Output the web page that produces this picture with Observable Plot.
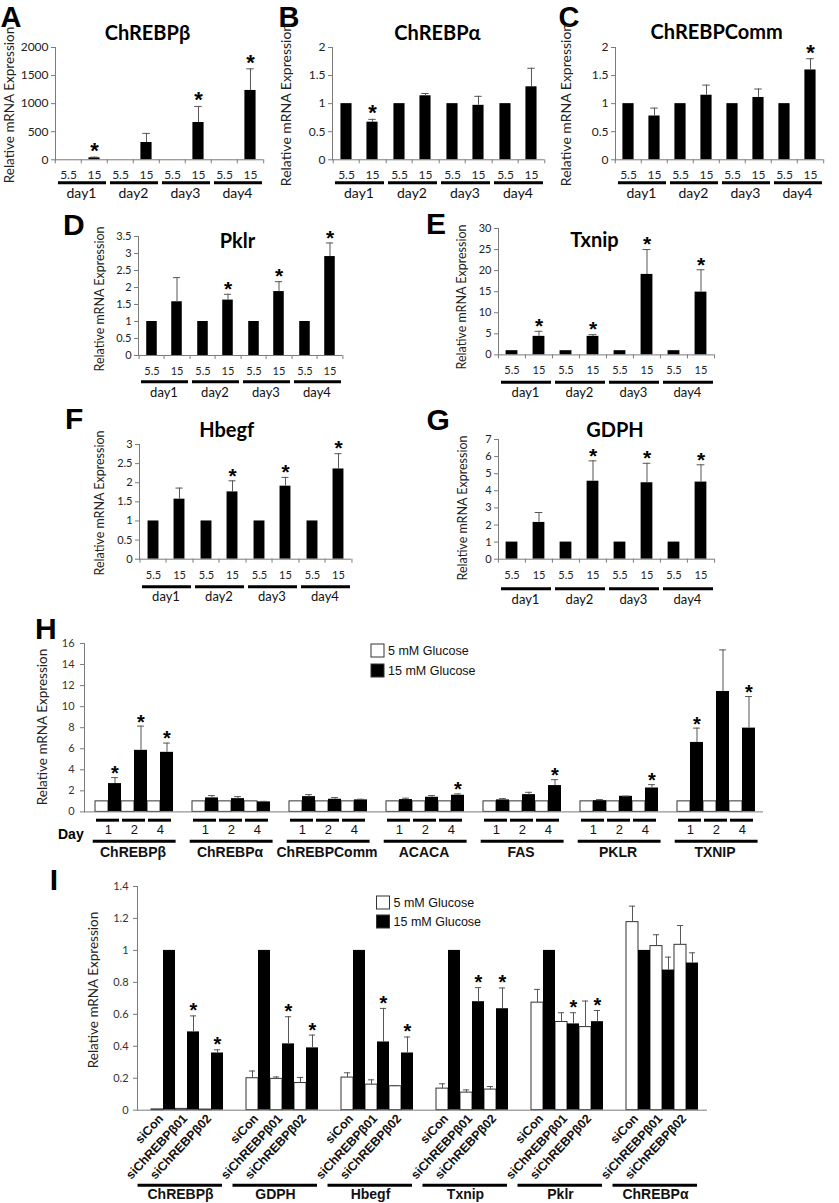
<!DOCTYPE html>
<html><head><meta charset="utf-8">
<script src="https://cdn.jsdelivr.net/npm/d3@7"></script>
<script src="https://cdn.jsdelivr.net/npm/@observablehq/plot@0.6"></script>
<style>
body{margin:0;background:#fff;}
#fig{position:relative;width:839px;height:1203px;overflow:hidden;background:#fff;}
</style></head><body><div id="fig"></div>
<script>
// ---------------- DATA ----------------
const days = ["day1","day2","day3","day4"];
const glucose = ["5.5","15"];
const low55 = [1,1,1,1];

// A ChREBPβ
const aHigh = [35, 308, 664, 1235];
const aErr  = [12, 162, 286, 385];
const aSig  = [1,0,1,1];
const aTicks = [0,500,1000,1500,2000];
// B ChREBPα
const bHigh = [0.67, 1.14, 0.97, 1.30];
const bErr  = [0.05, 0.04, 0.16, 0.33];
const bSig  = [1,0,0,0];
// C ChREBPComm
const cHigh = [0.78, 1.15, 1.11, 1.60];
const cErr  = [0.14, 0.18, 0.15, 0.20];
const cSig  = [0,0,0,1];
const bcTicks = [0,0.5,1,1.5,2];
// D Pklr
const dHigh = [1.58, 1.63, 1.88, 2.91];
const dErr  = [0.71, 0.17, 0.29, 0.40];
const dSig  = [0,1,1,1];
const dTicks = [0,0.5,1,1.5,2,2.5,3,3.5];
// E Txnip
const eHigh = [4.4, 4.4, 19.1, 14.9];
const eErr  = [1.2, 0.4, 5.9, 5.3];
const eSig  = [1,1,1,1];
const eTicks = [0,5,10,15,20,25,30];
// F Hbegf
const fHigh = [1.57, 1.76, 1.91, 2.36];
const fErr  = [0.29, 0.29, 0.23, 0.40];
const fSig  = [0,1,1,1];
const fTicks = [0,0.5,1,1.5,2,2.5,3];
// G GDPH
const gHigh = [2.15, 4.56, 4.47, 4.51];
const gErr  = [0.58, 1.19, 1.14, 1.01];
const gSig  = [0,1,1,1];
const gTicks = [0,1,2,3,4,5,6,7];

// H
const hGenes = ["ChREBPβ","ChREBPα","ChREBPComm","ACACA","FAS","PKLR","TXNIP"];
const hDays = ["1","2","4"];
const h5mM = [1,1,1];
const h15ChREBPb = [2.69, 5.85, 5.66], hErrChREBPb = [0.57, 2.30, 0.88], hSigChREBPb = [1,1,1];
const h15ChREBPa = [1.33, 1.26, 0.95], hErrChREBPa = [0.22, 0.19, 0.05], hSigChREBPa = [0,0,0];
const h15Comm = [1.45, 1.20, 1.14], hErrComm = [0.19, 0.16, 0.06], hSigComm = [0,0,0];
const h15ACACA = [1.17, 1.39, 1.58], hErrACACA = [0.13, 0.16, 0.13], hSigACACA = [0,0,1];
const h15FAS = [1.14, 1.64, 2.50], hErrFAS = [0.12, 0.22, 0.56], hSigFAS = [0,0,1];
const h15PKLR = [1.07, 1.48, 2.27], hErrPKLR = [0.10, 0.02, 0.32], hSigPKLR = [0,0,1];
const h15TXNIP = [6.60, 11.44, 7.96], hErrTXNIP = [1.36, 3.95, 3.00], hSigTXNIP = [1,0,1];
const hTicks = [0,2,4,6,8,10,12,14,16];

// I
const iGenes = ["ChREBPβ","GDPH","Hbegf","Txnip","Pklr","ChREBPα"];
const iSi = ["siCon","siChREBPβ01","siChREBPβ02"];
const i5ChREBPb = [0.005, 0.008, 0.004], i5eChREBPb = [0, 0, 0];
const i15ChREBPb = [1, 0.49, 0.358], i15eChREBPb = [0, 0.10, 0.02], iSigChREBPb = [0,1,1];
const i5GDPH = [0.20, 0.196, 0.17], i5eGDPH = [0.045, 0.012, 0.035];
const i15GDPH = [1, 0.415, 0.39], i15eGDPH = [0, 0.17, 0.08], iSigGDPH = [0,1,1];
const i5Hbegf = [0.204, 0.16, 0.15], i5eHbegf = [0.03, 0.03, 0.004];
const i15Hbegf = [1, 0.427, 0.358], i15eHbegf = [0, 0.21, 0.10], iSigHbegf = [0,1,1];
const i5Txnip = [0.135, 0.11, 0.129], i5eTxnip = [0.03, 0.017, 0.019];
const i15Txnip = [1, 0.679, 0.635], i15eTxnip = [0, 0.088, 0.13], iSigTxnip = [0,1,1];
const i5Pklr = [0.673, 0.552, 0.52], i5ePklr = [0.083, 0.058, 0.163];
const i15Pklr = [1, 0.54, 0.554], i15ePklr = [0, 0.07, 0.07], iSigPklr = [0,1,1];
const i5ChREBPa = [1.177, 1.027, 1.035], i5eChREBPa = [0.10, 0.071, 0.121];
const i15ChREBPa = [1, 0.877, 0.921], i15eChREBPa = [0, 0.081, 0.064], iSigChREBPa = [0,0,0];
const iTicks = [0,0.2,0.4,0.6,0.8,1,1.2,1.4];

// ---------------- HELPERS ----------------
const fig = document.getElementById("fig");
const CAL = "Lato, 'Open Sans', sans-serif";
const ARIAL = "'Liberation Sans', Arial, sans-serif";
const GRAY = "#7a7a7a";
const fmt = d => String(d);

function place(svg, left, top) {
  svg.style.position = "absolute";
  svg.style.left = left + "px";
  svg.style.top = top + "px";
  svg.style.background = "none";
  svg.style.overflow = "visible";
  svg.style.maxWidth = "none";
  fig.appendChild(svg);
}

function dayPanel(cfg) {
  const {x0, x1, y0, y1} = cfg.frame;
  const W = x1 - x0, H = y1 - y0;
  const ml = 45, mr = 8, mt = 15, mb = 50;
  const bw = W / (days.length * glucose.length);
  const rows = [];
  days.forEach((d, i) => {
    rows.push({day: d, g: "5.5", v: low55[i], e: 0, s: 0});
    rows.push({day: d, g: "15", v: cfg.high[i], e: cfg.err[i], s: cfg.sig[i]});
  });
  const withErr = rows.filter(r => r.e > 0);
  const stars = rows.filter(r => r.s);
  const ins = bw * 0.28;
  const svg = Plot.plot({
    width: ml + W + mr, height: mt + H + mb,
    marginLeft: ml, marginRight: mr, marginTop: mt, marginBottom: mb,
    style: {background: "none", overflow: "visible", fontFamily: CAL},
    fx: {domain: days, padding: 0, label: null},
    x: {domain: glucose, padding: 0, label: null},
    y: {domain: [0, cfg.ymax], label: null},
    marks: [
      Plot.barY(rows, {fx: "day", x: "g", y: "v", fill: "black", insetLeft: ins, insetRight: ins}),
      Plot.ruleX(withErr, {fx: "day", x: "g", y1: "v", y2: r => r.v + r.e, stroke: "#555"}),
      Plot.tickY(withErr, {fx: "day", x: "g", y: r => r.v + r.e, stroke: "#555", insetLeft: (bw - 8) / 2, insetRight: (bw - 8) / 2}),
      Plot.text(stars, {fx: "day", x: "g", y: r => r.v + r.e, text: () => "*", dy: cfg.starDy, fontSize: cfg.starFs, fontFamily: ARIAL, fontWeight: "bold"}),
      Plot.ruleY([0], {stroke: GRAY}),
      Plot.frame({anchor: "left", facetAnchor: "left", stroke: GRAY}),
      Plot.axisY({ticks: cfg.yticks, tickFormat: fmt, tickSize: 4, tickPadding: 3, fontSize: cfg.fs, stroke: GRAY, fill: "#222", label: null}),
      Plot.axisX({tickSize: 0, tickPadding: cfg.xPad, fontSize: cfg.fs, fill: "#222", label: null}),
      Plot.axisX({tickSize: 4, tickFormat: () => "", dx: -bw / 2, stroke: GRAY, label: null}),
      Plot.axisX({ticks: ["15"], tickSize: 4, tickFormat: () => "", dx: bw / 2, stroke: GRAY, facetAnchor: "right", label: null}),
      Plot.ruleY([0], {dy: cfg.ulDy, strokeWidth: 3, insetLeft: 3, insetRight: 1, stroke: "black"}),
      Plot.axisFx({anchor: "bottom", tickSize: 0, tickPadding: cfg.dayPad, fontSize: cfg.dayFs, fill: "#111", label: null})
    ]
  });
  place(svg, x0 - ml, y0 - mt);
}

function pairPanel(cfg) {
  const {x0, x1, y0, y1} = cfg.frame;
  const W = x1 - x0, H = y1 - y0;
  const ml = cfg.ml, mr = 20, mt = cfg.mt, mb = 100;
  const nG = cfg.groups.length, nK = cfg.cats.length * 2;
  const bw = (W / nG) / (nK + 2 * cfg.pad);
  const keys = cfg.cats.flatMap(c => [c + "|5", c + "|15"]);
  const rows = [];
  cfg.groups.forEach((g, gi) => cfg.cats.forEach((c, ci) => {
    rows.push({gene: g, key: c + "|5", v: cfg.white[gi][ci], e: cfg.whiteErr[gi][ci], s: 0, low: true});
    rows.push({gene: g, key: c + "|15", v: cfg.black[gi][ci], e: cfg.blackErr[gi][ci], s: cfg.sig[gi][ci], low: false});
  }));
  const errRows = rows.filter(r => r.e > 0);
  const capIns = (bw - 7) / 2;
  const svg = Plot.plot({
    width: ml + W + mr, height: mt + H + mb,
    marginLeft: ml, marginRight: mr, marginTop: mt, marginBottom: mb,
    style: {background: "none", overflow: "visible", fontFamily: ARIAL},
    fx: {domain: cfg.groups, padding: 0, label: null},
    x: {domain: keys, paddingInner: 0, paddingOuter: cfg.pad, align: cfg.align, label: null, axis: null},
    y: {domain: [0, cfg.ymax], label: null},
    marks: [
      Plot.barY(rows.filter(r => r.low), {fx: "gene", x: "key", y: "v", fill: "white", stroke: "#333", strokeWidth: 1}),
      Plot.barY(rows.filter(r => !r.low), {fx: "gene", x: "key", y: "v", fill: "black"}),
      Plot.ruleX(errRows, {fx: "gene", x: "key", y1: "v", y2: r => r.v + r.e, stroke: "#555"}),
      Plot.tickY(errRows, {fx: "gene", x: "key", y: r => r.v + r.e, stroke: "#555", insetLeft: capIns, insetRight: capIns}),
      Plot.text(rows.filter(r => r.s), {fx: "gene", x: "key", y: r => r.v + r.e, text: () => "*", dy: cfg.starDy, fontSize: cfg.starFs, fontFamily: ARIAL, fontWeight: "bold"}),
      Plot.ruleY([0], {stroke: GRAY}),
      Plot.frame({anchor: "left", facetAnchor: "left", stroke: GRAY}),
      Plot.axisY({ticks: cfg.yticks, tickFormat: fmt, tickSize: 4, tickPadding: cfg.yPad, fontSize: 11, fontFamily: CAL, stroke: GRAY, fill: "#333", label: null}),
      ...cfg.extra(bw)
    ]
  });
  place(svg, x0 - ml, y0 - mt);
}

// ---------------- PANELS A–G ----------------
const row1 = {fs: 12, xPad: 10.5, ulDy: 23, dayPad: 28, dayFs: 14, starFs: 22, starDy: -6};
dayPanel({...row1, frame: {x0: 53.3, x1: 265, y0: 46.7, y1: 159}, ymax: 2000, yticks: aTicks, high: aHigh, err: aErr, sig: aSig});
dayPanel({...row1, frame: {x0: 332.3, x1: 545, y0: 46.7, y1: 159}, ymax: 2, yticks: bcTicks, high: bHigh, err: bErr, sig: bSig});
dayPanel({...row1, frame: {x0: 613.3, x1: 825, y0: 46.7, y1: 159}, ymax: 2, yticks: bcTicks, high: cHigh, err: cErr, sig: cSig});

const row2 = {fs: 11, xPad: 11.5, dayPad: 32.5, dayFs: 13, starFs: 21, starDy: -5};
dayPanel({...row2, ulDy: 26.3, frame: {x0: 136.7, x1: 343.3, y0: 235.7, y1: 354.7}, ymax: 3.5, yticks: dTicks, high: dHigh, err: dErr, sig: dSig});
dayPanel({...row2, ulDy: 27.3, frame: {x0: 497.7, x1: 714.3, y0: 228.3, y1: 354.7}, ymax: 30, yticks: eTicks, high: eHigh, err: eErr, sig: eSig});
dayPanel({...row2, ulDy: 27.6, dayPad: 33, frame: {x0: 136.7, x1: 352.3, y0: 444, y1: 558.7}, ymax: 3, yticks: fTicks, high: fHigh, err: fErr, sig: fSig});
dayPanel({...row2, ulDy: 29.6, dayPad: 35.5, frame: {x0: 496.7, x1: 714.3, y0: 439, y1: 558.7}, ymax: 7, yticks: gTicks, high: gHigh, err: gErr, sig: gSig});

// ---------------- PANEL H ----------------
pairPanel({
  frame: {x0: 83.3, x1: 763.3, y0: 643.3, y1: 811.7}, ml: 25, mt: 20,
  groups: hGenes, cats: hDays, pad: 0.69, align: 0.6, ymax: 16, yticks: hTicks, yPad: 6,
  white: hGenes.map(() => h5mM), whiteErr: hGenes.map(() => [0,0,0]),
  black: [h15ChREBPb, h15ChREBPa, h15Comm, h15ACACA, h15FAS, h15PKLR, h15TXNIP],
  blackErr: [hErrChREBPb, hErrChREBPa, hErrComm, hErrACACA, hErrFAS, hErrPKLR, hErrTXNIP],
  sig: [hSigChREBPb, hSigChREBPa, hSigComm, hSigACACA, hSigFAS, hSigPKLR, hSigTXNIP],
  starFs: 20, starDy: -4,
  extra: bw => [
    Plot.tickY(hDays, {x: d => d + "|5", y: () => 0, dy: 8.3, strokeWidth: 3, insetLeft: 1, insetRight: 0, stroke: "black"}),
    Plot.tickY(hDays, {x: d => d + "|15", y: () => 0, dy: 8.3, strokeWidth: 3, insetLeft: 0, insetRight: 2, stroke: "black"}),
    Plot.text(hDays, {x: d => d + "|15", frameAnchor: "bottom", dx: -bw / 2, dy: 22.5, text: d => d, fontSize: 13, fontFamily: ARIAL, fill: "#111"}),
    Plot.ruleY([0], {dy: 29.3, strokeWidth: 3, insetLeft: 8.7, insetRight: 5.4, stroke: "black"}),
    Plot.axisFx({anchor: "bottom", tickSize: 0, tickPadding: 35, fontSize: 14, fontWeight: "bold", fontFamily: ARIAL, fill: "#111", label: null})
  ]
});

// ---------------- PANEL I ----------------
pairPanel({
  frame: {x0: 136.7, x1: 706.7, y0: 886.3, y1: 1110}, ml: 60, mt: 40,
  groups: iGenes, cats: iSi, pad: 0.695, align: 0.63, ymax: 1.4, yticks: iTicks, yPad: 5,
  white: [i5ChREBPb, i5GDPH, i5Hbegf, i5Txnip, i5Pklr, i5ChREBPa],
  whiteErr: [i5eChREBPb, i5eGDPH, i5eHbegf, i5eTxnip, i5ePklr, i5eChREBPa],
  black: [i15ChREBPb, i15GDPH, i15Hbegf, i15Txnip, i15Pklr, i15ChREBPa],
  blackErr: [i15eChREBPb, i15eGDPH, i15eHbegf, i15eTxnip, i15ePklr, i15eChREBPa],
  sig: [iSigChREBPb, iSigGDPH, iSigHbegf, iSigTxnip, iSigPklr, iSigChREBPa],
  starFs: 20, starDy: -5,
  extra: bw => [
    Plot.text(iSi, {x: s => s + "|15", frameAnchor: "bottom", dx: -bw / 2 + 1, dy: 9, rotate: -47, textAnchor: "end", text: s => s, fontSize: 12.5, fontWeight: "bold", fontFamily: ARIAL, fill: "#111"}),
    Plot.ruleY([0], {dy: 75, strokeWidth: 3, insetLeft: 0.5, insetRight: 10, stroke: "black"}),
    Plot.axisFx({anchor: "bottom", tickSize: 0, tickPadding: 79, dx: -4.5, fontSize: 14, fontWeight: "bold", fontFamily: ARIAL, fill: "#111", label: null})
  ]
});

// ---------------- OVERLAY TEXT ----------------
const ov = d3.select(fig).append("svg")
  .attr("width", 839).attr("height", 1203)
  .style("position", "absolute").style("left", "0px").style("top", "0px");

const letters = [
  {t: "A", x: 0.5, y: 26.5, fs: 29}, {t: "B", x: 278.5, y: 26.5, fs: 29}, {t: "C", x: 558.5, y: 26.5, fs: 29},
  {t: "D", x: 63, y: 235, fs: 30}, {t: "E", x: 426, y: 233.5, fs: 30}, {t: "F", x: 65, y: 428.5, fs: 30},
  {t: "G", x: 426.5, y: 430, fs: 30}, {t: "H", x: 35, y: 638.5, fs: 30}, {t: "I", x: 49.7, y: 890, fs: 30}
];
ov.selectAll("text.letter").data(letters).join("text").attr("class", "letter")
  .attr("x", d => d.x).attr("y", d => d.y).text(d => d.t)
  .style("font-family", ARIAL).style("font-weight", "bold").style("font-size", d => d.fs + "px");

const titles = [
  {t: "ChREBPβ", x: 147.5, y: 40}, {t: "ChREBPα", x: 437.5, y: 39.5}, {t: "ChREBPComm", x: 716.7, y: 38.5},
  {t: "Pklr", x: 237.5, y: 248.3}, {t: "Txnip", x: 594.5, y: 246.7},
  {t: "Hbegf", x: 226.7, y: 436.7}, {t: "GDPH", x: 615, y: 437.3}
];
ov.selectAll("text.title").data(titles).join("text").attr("class", "title")
  .attr("x", d => d.x).attr("y", d => d.y).attr("text-anchor", "middle").text(d => d.t)
  .style("font-family", CAL).style("font-weight", "bold").style("font-size", "20px");

const ytitles = [
  {x: 14, y: 105, fs: 13.5}, {x: 290.5, y: 105, fs: 14}, {x: 570.5, y: 105, fs: 14},
  {x: 104, y: 299, fs: 12.5}, {x: 466, y: 297, fs: 12.5},
  {x: 104, y: 503, fs: 12.5}, {x: 467, y: 508, fs: 12.5},
  {x: 47, y: 727, fs: 13.5}, {x: 97.5, y: 990, fs: 13.5}
];
ov.selectAll("text.ytitle").data(ytitles).join("text").attr("class", "ytitle")
  .attr("transform", d => `translate(${d.x},${d.y}) rotate(-90)`).attr("text-anchor", "middle")
  .text("Relative mRNA Expression")
  .style("font-family", CAL).style("font-size", d => d.fs + "px").style("fill", "#222");

ov.append("text").attr("x", 58).attr("y", 839).text("Day")
  .style("font-family", ARIAL).style("font-weight", "bold").style("font-size", "14px");

const legends = [
  {x: 371, y: 644, fill: "white", t: "5 mM Glucose"}, {x: 371, y: 664, fill: "black", t: "15 mM Glucose"},
  {x: 376.5, y: 896, fill: "white", t: "5 mM Glucose"}, {x: 376.5, y: 915, fill: "black", t: "15 mM Glucose"}
];
ov.selectAll("rect.leg").data(legends).join("rect").attr("class", "leg")
  .attr("x", d => d.x).attr("y", d => d.y).attr("width", 13).attr("height", 13)
  .attr("fill", d => d.fill).attr("stroke", "#333");
ov.selectAll("text.leg").data(legends).join("text").attr("class", "leg")
  .attr("x", d => d.x + 17).attr("y", d => d.y + 11).text(d => d.t)
  .style("font-family", ARIAL).style("font-size", "12.5px").style("fill", "#111");
</script></body></html>
